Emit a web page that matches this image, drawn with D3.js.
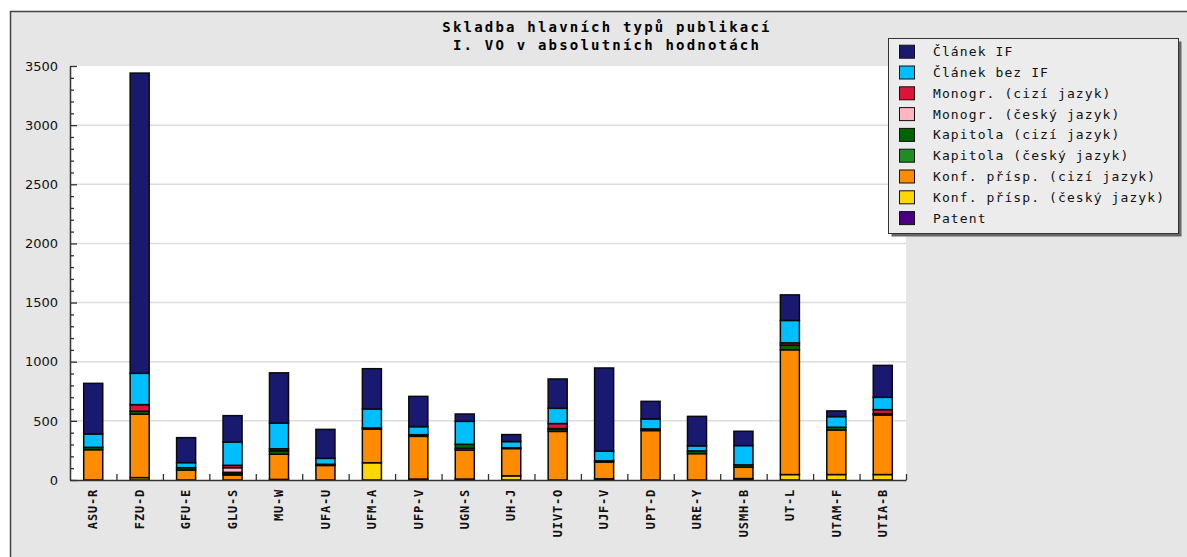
<!DOCTYPE html>
<html><head><meta charset="utf-8">
<script src="https://cdn.jsdelivr.net/npm/d3@7"></script>
<style>
html,body{margin:0;padding:0;background:#fff;}
svg{display:block;}
</style></head>
<body>
<svg id="chart" width="1187" height="557"></svg>
<script>
// ---- data ----
const categories = ["ASU-R","FZU-D","GFU-E","GLU-S","MU-W","UFA-U","UFM-A","UFP-V","UGN-S","UH-J","UIVT-O","UJF-V","UPT-D","URE-Y","USMH-B","UT-L","UTAM-F","UTIA-B"];
const seriesNames = ["Článek IF","Článek bez IF","Monogr. (cizí jazyk)","Monogr. (český jazyk)","Kapitola (cizí jazyk)","Kapitola (český jazyk)","Konf. přísp. (cizí jazyk)","Konf. přísp. (český jazyk)","Patent"];
const seriesColors = ["#191970","#00bfff","#dc143c","#ffb6c1","#006400","#228b22","#ff8c00","#ffd700","#4b0082"];
const clanekIF      = [428,2538,211,223,425,245,341,256, 62, 59,248,704,149,249,121, 216, 48,270];
const clanekBezIF   = [113, 265, 43,197,217, 50,160, 68,194, 53,129, 81, 84, 43,163, 189, 90,104];
const monogrCizi    = [  0,  56,  0, 20, 17,  0,  0,  0,  0,  0, 42,  0,  0,  0,  0,  19,  0, 34];
const monogrCesky   = [  0,   0,  0, 39,  0,  0,  0,  0,  0,  0,  0,  0,  0,  0,  0,   0,  0,  0];
const kapitolaCizi  = [ 20,  24, 20, 10, 29, 10, 11, 14, 34,  6,  8, 10, 14, 23, 20,  40, 23, 11];
const kapitolaCesky = [  0,   0,  0, 13,  0,  0,  0,  0, 15,  0, 16,  0,  0,  0,  0,   0,  0,  0];
const konfCizi      = [256, 537, 84, 42,213,123,283,361,245,231,411,142,418,223, 96,1055,377,504];
const konfCesky     = [  0,  20,  0,  0,  5,  0,146,  8,  8, 35,  0, 10,  0,  0, 12,  46, 46, 46];
const patent        = [  0,   0,  0,  0,  0,  0,  0,  0,  0,  0,  0,  0,  0,  0,  0,   0,  0,  0];
const yMajorTicks = [0,500,1000,1500,2000,2500,3000,3500];
const titleLines = ["Skladba hlavních typů publikací","I. VO v absolutních hodnotách"];

const seriesValues = [clanekIF,clanekBezIF,monogrCizi,monogrCesky,kapitolaCizi,kapitolaCesky,konfCizi,konfCesky,patent];
const rows = categories.map((c,i)=>{const r={cat:c}; seriesNames.forEach((s,k)=>r[s]=seriesValues[k][i]); return r;});

const svg = d3.select("#chart");
const L=70, R=906, T=66, B=480;

// frame
svg.append("rect").attr("x",10.5).attr("y",11.5).attr("width",1190).attr("height",560)
  .attr("fill","#e6e6e6").attr("stroke","#444").attr("stroke-width",1.5);

// title
const mono = "'DejaVu Sans Mono', monospace";
svg.append("g").selectAll("text").data(titleLines).join("text")
  .attr("x",607).attr("y",(d,i)=>32+i*18).attr("text-anchor","middle")
  .attr("font-family",mono).attr("font-weight","bold").attr("font-size",14)
  .attr("letter-spacing",2.2).attr("fill","#000").text(d=>d);

// plot area
svg.append("rect").attr("x",L).attr("y",T).attr("width",R-L).attr("height",B-T).attr("fill","#fff");

const y = d3.scaleLinear().domain([0,3500]).range([B,T]);
const x = d3.scaleBand().domain(categories).range([L,R]).padding(0);
const step = x.step(), bw = step*0.41;

// grid
svg.append("g").selectAll("line").data(yMajorTicks.filter(v=>v>0&&v<3500)).join("line")
  .attr("x1",L).attr("x2",R).attr("y1",d=>y(d)).attr("y2",d=>y(d))
  .attr("stroke","#dcdcdc").attr("stroke-width",1.5);

// bars
const stackKeys = seriesNames.slice().reverse();
const stacked = d3.stack().keys(stackKeys)(rows);
const gBars = svg.append("g");
stacked.forEach(layer=>{
  const col = seriesColors[seriesNames.indexOf(layer.key)];
  gBars.append("g").selectAll("rect").data(layer.filter(d=>d[1]-d[0]>0)).join("rect")
    .attr("x",d=>x(d.data.cat)+(step-bw)/2).attr("width",bw)
    .attr("y",d=>y(d[1])).attr("height",d=>y(d[0])-y(d[1]))
    .attr("fill",col).attr("stroke","#0a0a0a").attr("stroke-width",1.5);
});

// y axis
const yAxis = d3.axisLeft(y).tickValues(yMajorTicks).tickSizeInner(-7).tickSizeOuter(0).tickPadding(12).tickFormat(d3.format("d"));
const gy = svg.append("g").attr("transform",`translate(${L},0)`).call(yAxis);
gy.select(".domain").attr("stroke","#333").attr("stroke-width",1.5);
gy.selectAll(".tick line").attr("stroke","#333").attr("stroke-width",1.3);
gy.selectAll("text").attr("font-family","'DejaVu Sans', sans-serif").attr("font-size",13).attr("fill","#111");
const minor = d3.range(100,3500,100).filter(v=>v%500!==0);
const gym = svg.append("g").attr("transform",`translate(${L},0)`)
  .call(d3.axisLeft(y).tickValues(minor).tickSizeInner(-4).tickSizeOuter(0).tickFormat(""));
gym.select(".domain").remove();
gym.selectAll(".tick line").attr("stroke","#333").attr("stroke-width",1.3);

// x axis labels
const gx = svg.append("g").attr("transform",`translate(0,${B})`)
  .call(d3.axisBottom(x).tickSize(0).tickPadding(9));
gx.select(".domain").attr("stroke","#333").attr("stroke-width",1.5);
gx.selectAll("text").attr("transform","rotate(-90)").attr("text-anchor","end")
  .attr("x",-9).attr("y",0).attr("dy","0.35em")
  .attr("font-family",mono).attr("font-weight","bold").attr("font-size",12)
  .attr("letter-spacing",0.8).attr("fill","#111");
// x boundary ticks
const xb = d3.scaleLinear().domain([0,categories.length]).range([L,R]);
const gxb = svg.append("g").attr("transform",`translate(0,${B})`)
  .call(d3.axisBottom(xb).tickValues(d3.range(1,categories.length+1)).tickSizeInner(-6).tickSizeOuter(0).tickFormat(""));
gxb.select(".domain").remove();
gxb.selectAll(".tick line").attr("stroke","#333").attr("stroke-width",1.3);

// legend
const lg = svg.append("g");
lg.append("rect").attr("x",891.5).attr("y",41.5).attr("width",290).attr("height",195).attr("fill","#666");
lg.append("rect").attr("x",888.5).attr("y",38.5).attr("width",290).attr("height",195)
  .attr("fill","#ececec").attr("stroke","#333").attr("stroke-width",1);
const items = lg.selectAll("g.item").data(seriesNames).join("g").attr("class","item")
  .attr("transform",(d,i)=>`translate(0,${51.7+i*20.8})`);
items.append("rect").attr("x",899.5).attr("y",-6.5).attr("width",15).attr("height",13)
  .attr("fill",(d,i)=>seriesColors[i]).attr("stroke","#111").attr("stroke-width",1);
items.append("text").attr("x",933).attr("y",0).attr("dy","0.35em")
  .attr("font-family",mono).attr("font-size",13).attr("letter-spacing",1.1).attr("fill","#111").text(d=>d);
</script>
</body></html>
